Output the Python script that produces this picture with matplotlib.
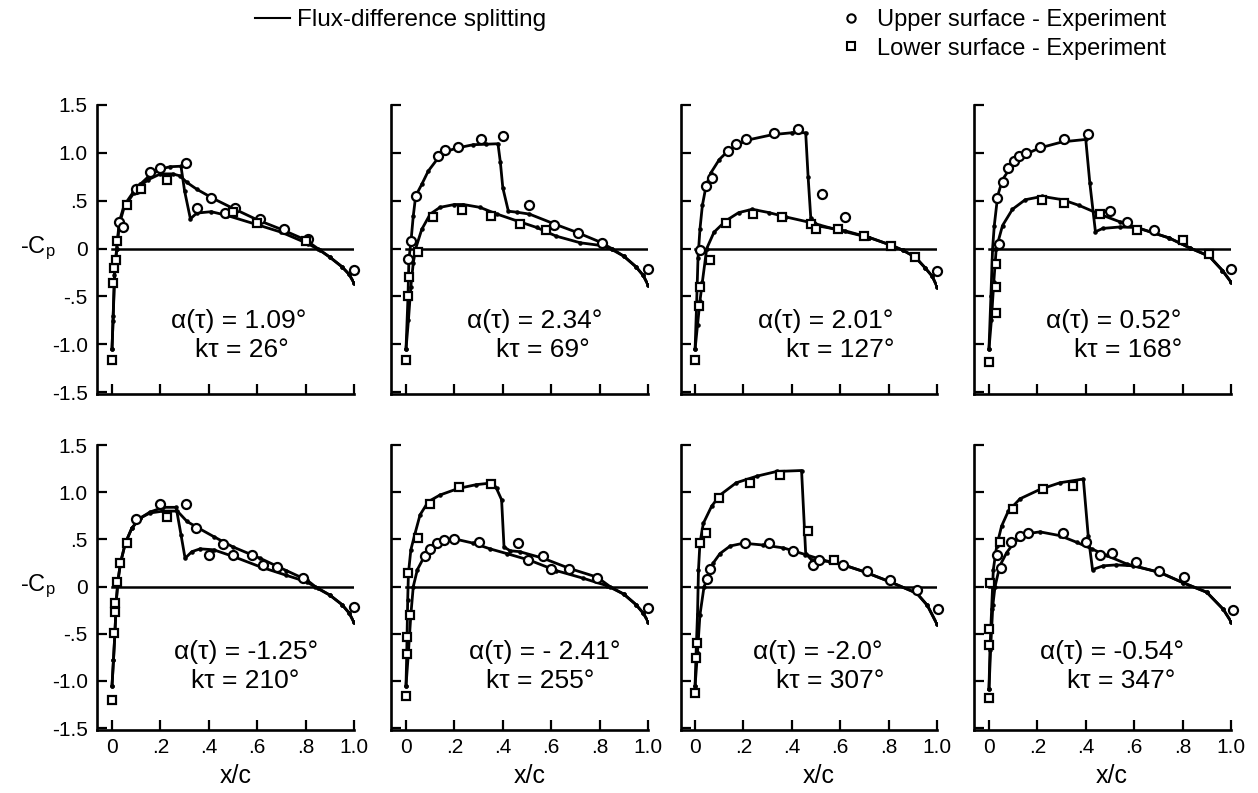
import matplotlib
matplotlib.use("Agg")
import matplotlib.pyplot as plt
from matplotlib.lines import Line2D

# =====================================================
# Fonts
# =====================================================

plt.rcParams['font.family'] = ['Liberation Sans', 'DejaVu Sans']
plt.rcParams['mathtext.default'] = 'regular'

# =====================================================
# Panel labels
# =====================================================

alpha_labels = ['α(τ) = 1.09°', 'α(τ) = 2.34°', 'α(τ) = 2.01°', 'α(τ) = 0.52°',
                'α(τ) = -1.25°', 'α(τ) = - 2.41°', 'α(τ) = -2.0°', 'α(τ) = -0.54°']
k_labels = ['kτ = 26°', 'kτ = 69°', 'kτ = 127°', 'kτ = 168°',
            'kτ = 210°', 'kτ = 255°', 'kτ = 307°', 'kτ = 347°']

x_ticks = [0, 0.2, 0.4, 0.6, 0.8, 1.0]
x_ticklabels = ['0', '.2', '.4', '.6', '.8', '1.0']
y_ticks = [-1.5, -1.0, -0.5, 0, 0.5, 1.0, 1.5]
y_ticklabels = ['-1.5', '-1.0', '-.5', '0', '.5', '1.0', '1.5']

# =====================================================
# Flux-difference splitting (computed), upper surface
# =====================================================

calc_upper_x = [
    [0, 0.004, 0.01, 0.019, 0.03, 0.05, 0.088, 0.116, 0.15, 0.2, 0.24, 0.285, 0.3, 0.324, 0.35, 0.41,
     0.476, 0.586, 0.70, 0.81, 0.86, 0.9, 0.95, 0.98, 1.0],
    [0, 0.008, 0.012, 0.02, 0.03, 0.04, 0.065, 0.092, 0.134, 0.16, 0.21, 0.278, 0.33, 0.38, 0.39, 0.40,
     0.423, 0.457, 0.51, 0.62, 0.705, 0.80, 0.85, 0.9, 0.95, 0.98, 1.0],
    [0, 0.006, 0.012, 0.02, 0.03, 0.045, 0.065, 0.1, 0.14, 0.21, 0.32, 0.40, 0.457, 0.467, 0.478, 0.51,
     0.62, 0.72, 0.815, 0.86, 0.91, 0.95, 0.98, 1.0],
    [0, 0.008, 0.015, 0.022, 0.036, 0.056, 0.09, 0.139, 0.208, 0.304, 0.40, 0.417, 0.44, 0.47, 0.54,
     0.61, 0.745, 0.83, 0.91, 0.965, 1.0],
    [0, 0.006, 0.012, 0.018, 0.025, 0.035, 0.055, 0.082, 0.116, 0.157, 0.212, 0.27, 0.31, 0.35, 0.42,
     0.5, 0.612, 0.72, 0.805, 0.84, 0.9, 0.95, 0.98, 1.0],
    [0, 0.01, 0.02, 0.03, 0.047, 0.078, 0.113, 0.154, 0.21, 0.278, 0.347, 0.416, 0.51, 0.62, 0.73,
     0.83, 0.9, 0.95, 0.98, 1.0],
    [0, 0.01, 0.02, 0.037, 0.055, 0.075, 0.103, 0.145, 0.2, 0.282, 0.365, 0.455, 0.53, 0.613, 0.696,
     0.806, 0.916, 0.96, 1.0],
    [0, 0.008, 0.016, 0.025, 0.045, 0.073, 0.114, 0.156, 0.211, 0.293, 0.362, 0.424, 0.486, 0.569,
     0.706, 0.803, 0.9, 0.968, 1.0],
]
calc_upper_cp = [
    [-1.05, -0.76, -0.28, 0.0, 0.28, 0.45, 0.59, 0.67, 0.75, 0.83, 0.855, 0.86, 0.6, 0.31, 0.37, 0.385,
     0.345, 0.26, 0.17, 0.05, -0.02, -0.09, -0.19, -0.27, -0.36],
    [-1.05, -0.52, -0.11, 0.06, 0.34, 0.55, 0.67, 0.81, 0.95, 1.01, 1.05, 1.085, 1.09, 1.095, 0.9, 0.635,
     0.39, 0.38, 0.36, 0.25, 0.17, 0.07, 0.0, -0.08, -0.19, -0.28, -0.38],
    [-1.05, -0.6, -0.1, 0.2, 0.45, 0.65, 0.79, 0.93, 1.03, 1.13, 1.19, 1.21, 1.21, 0.75, 0.32, 0.235,
     0.185, 0.115, 0.03, -0.02, -0.09, -0.2, -0.29, -0.4],
    [-1.05, -0.5, 0.0, 0.24, 0.55, 0.72, 0.85, 0.97, 1.05, 1.115, 1.14, 0.68, 0.175, 0.21, 0.225,
     0.22, 0.11, 0.006, -0.08, -0.23, -0.35],
    [-1.05, -0.78, -0.49, -0.14, 0.07, 0.25, 0.46, 0.62, 0.725, 0.78, 0.8, 0.8, 0.69, 0.63, 0.53,
     0.42, 0.3, 0.17, 0.07, 0.0, -0.09, -0.19, -0.28, -0.38],
    [-1.05, -0.7, -0.3, 0.0, 0.18, 0.33, 0.42, 0.47, 0.5, 0.46, 0.4, 0.35, 0.28, 0.17, 0.09,
     0.01, -0.08, -0.19, -0.28, -0.37],
    [-1.05, -0.7, -0.3, 0.0, 0.1, 0.25, 0.35, 0.43, 0.46, 0.44, 0.41, 0.34, 0.28, 0.23, 0.16,
     0.05, -0.07, -0.2, -0.4],
    [-1.09, -0.6, -0.2, 0.0, 0.22, 0.36, 0.5, 0.56, 0.58, 0.54, 0.47, 0.4, 0.33, 0.24,
     0.15, 0.04, -0.06, -0.24, -0.37],
]

# =====================================================
# Flux-difference splitting (computed), lower surface
# =====================================================

calc_lower_x = [
    [0, 0.005, 0.012, 0.02, 0.03, 0.05, 0.09, 0.12, 0.15, 0.2, 0.25, 0.28, 0.31, 0.35, 0.42, 0.5,
     0.6, 0.7, 0.8, 0.85, 0.9, 0.95, 0.98, 1.0],
    [0, 0.01, 0.02, 0.03, 0.04, 0.065, 0.1, 0.14, 0.2, 0.237, 0.306, 0.376, 0.457, 0.54, 0.62, 0.72,
     0.81, 0.85, 0.9, 0.95, 0.98, 1.0],
    [0, 0.01, 0.02, 0.03, 0.048, 0.078, 0.127, 0.18, 0.236, 0.306, 0.375, 0.48, 0.58, 0.72, 0.815,
     0.86, 0.91, 0.95, 0.98, 1.0],
    [0, 0.01, 0.02, 0.03, 0.056, 0.097, 0.15, 0.22, 0.304, 0.373, 0.456, 0.54, 0.61, 0.745, 0.83,
     0.91, 0.965, 1.0],
    [0, 0.006, 0.012, 0.018, 0.025, 0.035, 0.055, 0.082, 0.116, 0.157, 0.212, 0.265, 0.285, 0.302,
     0.33, 0.364, 0.42, 0.5, 0.612, 0.72, 0.805, 0.85, 0.9, 0.95, 0.98, 1.0],
    [0, 0.003, 0.007, 0.01, 0.02, 0.037, 0.058, 0.092, 0.14, 0.216, 0.29, 0.36, 0.374, 0.395, 0.405,
     0.43, 0.47, 0.567, 0.678, 0.79, 0.843, 0.9, 0.95, 0.98, 1.0],
    [0, 0.003, 0.01, 0.014, 0.02, 0.034, 0.068, 0.103, 0.17, 0.255, 0.337, 0.44, 0.457, 0.482, 0.557,
     0.613, 0.696, 0.806, 0.916, 0.96, 1.0],
    [0, 0.004, 0.011, 0.018, 0.032, 0.052, 0.08, 0.128, 0.211, 0.293, 0.39, 0.41, 0.428, 0.472, 0.527,
     0.596, 0.706, 0.803, 0.9, 0.968, 1.0],
]
calc_lower_cp = [
    [-1.05, -0.7, -0.2, 0.0, 0.25, 0.43, 0.58, 0.66, 0.72, 0.78, 0.78, 0.76, 0.69, 0.62, 0.52, 0.42,
     0.3, 0.2, 0.09, 0.0, -0.09, -0.19, -0.27, -0.36],
    [-1.05, -0.75, -0.4, -0.15, 0.0, 0.2, 0.36, 0.43, 0.46, 0.46, 0.43, 0.36, 0.29, 0.22, 0.13, 0.06,
     0.03, -0.01, -0.08, -0.19, -0.28, -0.38],
    [-1.05, -0.8, -0.55, -0.35, 0.0, 0.17, 0.29, 0.375, 0.41, 0.375, 0.33, 0.27, 0.2, 0.115, 0.03,
     -0.02, -0.09, -0.2, -0.29, -0.4],
    [-1.05, -0.75, -0.35, 0.0, 0.24, 0.41, 0.51, 0.545, 0.51, 0.45, 0.36, 0.28, 0.22, 0.11, 0.006,
     -0.08, -0.23, -0.35],
    [-1.05, -0.78, -0.49, -0.14, 0.07, 0.25, 0.46, 0.62, 0.725, 0.79, 0.84, 0.84, 0.55, 0.3,
     0.37, 0.4, 0.39, 0.32, 0.21, 0.12, 0.05, -0.02, -0.09, -0.19, -0.28, -0.38],
    [-1.05, -0.71, -0.14, 0.14, 0.39, 0.56, 0.76, 0.9, 0.97, 1.04, 1.08, 1.1, 1.04, 0.92, 0.42,
     0.38, 0.37, 0.3, 0.19, 0.1, 0.0, -0.08, -0.19, -0.28, -0.37],
    [-1.05, -0.78, -0.29, 0.18, 0.46, 0.67, 0.85, 0.97, 1.1, 1.17, 1.22, 1.23, 0.35, 0.28, 0.265,
     0.23, 0.16, 0.05, -0.07, -0.2, -0.4],
    [-1.09, -0.67, -0.24, 0.18, 0.43, 0.64, 0.8, 0.93, 1.03, 1.1, 1.14, 0.54, 0.18, 0.22, 0.23,
     0.22, 0.15, 0.04, -0.06, -0.24, -0.37],
]

# =====================================================
# Experiment, upper surface (circles)
# =====================================================

exp_upper_x = [
    [0.03, 0.047, 0.1, 0.155, 0.2, 0.307, 0.35, 0.41, 0.468, 0.51, 0.61, 0.71, 0.81, 1.0],
    [0.01, 0.02, 0.04, 0.134, 0.16, 0.213, 0.31, 0.40, 0.51, 0.61, 0.71, 0.81, 1.0],
    [0.02, 0.047, 0.07, 0.136, 0.17, 0.21, 0.325, 0.426, 0.523, 0.62, 1.0],
    [0.033, 0.042, 0.056, 0.077, 0.105, 0.125, 0.153, 0.21, 0.31, 0.41, 0.5, 0.57, 0.68, 1.0],
    [0.1, 0.2, 0.305, 0.347, 0.4, 0.46, 0.5, 0.578, 0.625, 0.68, 0.79, 1.0],
    [0.077, 0.1, 0.13, 0.155, 0.2, 0.3, 0.464, 0.505, 0.567, 0.6, 0.675, 0.79, 1.0],
    [0.05, 0.06, 0.206, 0.307, 0.406, 0.487, 0.51, 0.613, 0.712, 0.806, 0.916, 1.005],
    [0.033, 0.05, 0.09, 0.13, 0.16, 0.307, 0.4, 0.46, 0.507, 0.607, 0.704, 0.807, 1.01],
]
exp_upper_cp = [
    [0.28, 0.22, 0.62, 0.8, 0.84, 0.89, 0.42, 0.53, 0.37, 0.42, 0.31, 0.2, 0.1, -0.22],
    [-0.11, 0.08, 0.55, 0.97, 1.03, 1.06, 1.14, 1.18, 0.46, 0.25, 0.16, 0.06, -0.21],
    [-0.02, 0.65, 0.74, 1.02, 1.09, 1.14, 1.21, 1.25, 0.57, 0.33, -0.24],
    [0.53, 0.05, 0.7, 0.84, 0.91, 0.97, 1.0, 1.06, 1.14, 1.2, 0.395, 0.28, 0.19, -0.21],
    [0.72, 0.87, 0.875, 0.62, 0.34, 0.45, 0.33, 0.33, 0.23, 0.21, 0.09, -0.22],
    [0.32, 0.4, 0.46, 0.49, 0.5, 0.47, 0.46, 0.28, 0.32, 0.19, 0.19, 0.09, -0.23],
    [0.08, 0.19, 0.46, 0.46, 0.38, 0.23, 0.28, 0.23, 0.16, 0.07, -0.04, -0.24],
    [0.33, 0.2, 0.47, 0.54, 0.57, 0.57, 0.47, 0.33, 0.36, 0.26, 0.17, 0.1, -0.25],
]

# =====================================================
# Experiment, lower surface (squares)
# =====================================================

exp_lower_x = [
    [0.0, 0.006, 0.01, 0.015, 0.02, 0.06, 0.12, 0.227, 0.5, 0.6, 0.8],
    [0.0, 0.008, 0.012, 0.05, 0.11, 0.23, 0.35, 0.47, 0.58],
    [0.0, 0.015, 0.02, 0.06, 0.126, 0.24, 0.36, 0.48, 0.5, 0.59, 0.7, 0.81, 0.91],
    [0.0, 0.03, 0.03, 0.03, 0.22, 0.31, 0.46, 0.61, 0.8, 0.91],
    [0.0, 0.008, 0.012, 0.014, 0.02, 0.035, 0.06, 0.226],
    [0.0, 0.003, 0.005, 0.015, 0.01, 0.05, 0.1, 0.22, 0.35],
    [0.0, 0.005, 0.006, 0.02, 0.045, 0.1, 0.225, 0.35, 0.468, 0.575],
    [0.0, 0.002, 0.002, 0.004, 0.045, 0.1, 0.225, 0.346],
]
exp_lower_cp = [
    [-1.17, -0.36, -0.2, -0.12, 0.08, 0.45, 0.62, 0.72, 0.38, 0.27, 0.08],
    [-1.17, -0.5, -0.3, -0.04, 0.33, 0.4, 0.34, 0.26, 0.19],
    [-1.17, -0.6, -0.4, -0.12, 0.27, 0.36, 0.33, 0.26, 0.2, 0.2, 0.134, 0.03, -0.09],
    [-1.19, -0.67, -0.4, -0.16, 0.51, 0.48, 0.36, 0.19, 0.09, -0.06],
    [-1.2, -0.49, -0.27, -0.17, 0.05, 0.25, 0.46, 0.74],
    [-1.16, -0.71, -0.53, -0.3, 0.14, 0.51, 0.88, 1.05, 1.09],
    [-1.13, -0.76, -0.6, 0.46, 0.565, 0.94, 1.1, 1.18, 0.59, 0.28],
    [-1.18, -0.62, -0.45, 0.04, 0.47, 0.82, 1.03, 1.07],
]

# =====================================================
# Figure / axes layout
# =====================================================

fig = plt.figure(figsize=(12.58, 7.93), dpi=100)

col_left = [0.0775, 0.3112, 0.5410, 0.7746]
ax_width = 0.2039
row_bottom = [0.5032, 0.0794]
row_height = [0.3644, 0.3594]

alpha_pos = [0.525, 0.533, 0.54, 0.517, 0.553, 0.574, 0.508, 0.508]
k_pos = [0.535, 0.566, 0.60, 0.575, 0.55, 0.553, 0.56, 0.545]

for i in range(8):
    row = i // 4
    col = i % 4

    ax = fig.add_axes([col_left[col], row_bottom[row], ax_width, row_height[row]])

    # zero line
    ax.plot([0, 1.0], [0, 0], color='black', linewidth=1.8)

    # computed curves
    ax.plot(calc_upper_x[i], calc_upper_cp[i], color='black', linewidth=2.0,
            marker='.', markersize=4.5)
    ax.plot(calc_lower_x[i], calc_lower_cp[i], color='black', linewidth=2.0,
            marker='.', markersize=4.5)

    # experiment
    ax.plot(exp_upper_x[i], exp_upper_cp[i], linestyle='none', marker='o',
            markersize=6.5, markerfacecolor='white', markeredgecolor='black',
            markeredgewidth=1.6, clip_on=False)
    ax.plot(exp_lower_x[i], exp_lower_cp[i], linestyle='none', marker='s',
            markersize=5.5, markerfacecolor='white', markeredgecolor='black',
            markeredgewidth=1.6, clip_on=False)

    ax.set_xlim(-0.06, 1.0)
    ax.set_ylim(-1.52, 1.5)

    for side in ['top', 'right']:
        ax.spines[side].set_visible(False)
    for side in ['left', 'bottom']:
        ax.spines[side].set_linewidth(1.9)

    ax.set_xticks(x_ticks)
    ax.set_yticks(y_ticks)
    ax.tick_params(direction='in', length=7, width=1.6, labelsize=15)
    ax.tick_params(axis='y', pad=7)
    ax.tick_params(axis='x', pad=6)

    if row == 1:
        ax.set_xticklabels(x_ticklabels)
        ax.set_xlabel('x/c', fontsize=18, va='center')
        ax.xaxis.set_label_coords(0.537, -0.162)
    else:
        ax.set_xticklabels([])

    if col == 0:
        ax.set_yticklabels(y_ticklabels)
        ax.set_ylabel('-C$_p$', fontsize=17, rotation=0, ha='center', va='center')
        ax.yaxis.set_label_coords(-0.232, 0.503)
    else:
        ax.set_yticklabels([])

    # case labels
    y_a = -0.76 if row == 0 else -0.69
    y_k = -1.06 if row == 0 else -1.00
    ax.text(alpha_pos[i], y_a, alpha_labels[i], ha='center', va='center', fontsize=19)
    ax.text(k_pos[i], y_k, k_labels[i], ha='center', va='center', fontsize=19)

# =====================================================
# Legends
# =====================================================

line_handle = Line2D([], [], color='black', linewidth=1.5)
fig.legend([line_handle], ['Flux-difference splitting'],
           loc='upper left', bbox_to_anchor=(255 / 1258, 1 - 9 / 793),
           frameon=False, fontsize=17.5, handlelength=1.44, handletextpad=0.29,
           borderpad=0, borderaxespad=0)

circle_handle = Line2D([], [], linestyle='none', marker='o', markersize=6,
                       markerfacecolor='white', markeredgecolor='black', markeredgewidth=1.5)
square_handle = Line2D([], [], linestyle='none', marker='s', markersize=6,
                       markerfacecolor='white', markeredgecolor='black', markeredgewidth=1.5)
fig.legend([circle_handle, square_handle],
           ['Upper surface - Experiment', 'Lower surface - Experiment'],
           loc='upper left', bbox_to_anchor=(839 / 1258, 1 - 9 / 793),
           frameon=False, fontsize=17, handlelength=1.0, handletextpad=0.61,
           labelspacing=0.28, borderpad=0, borderaxespad=0)

fig.savefig('out.png', dpi=100)
